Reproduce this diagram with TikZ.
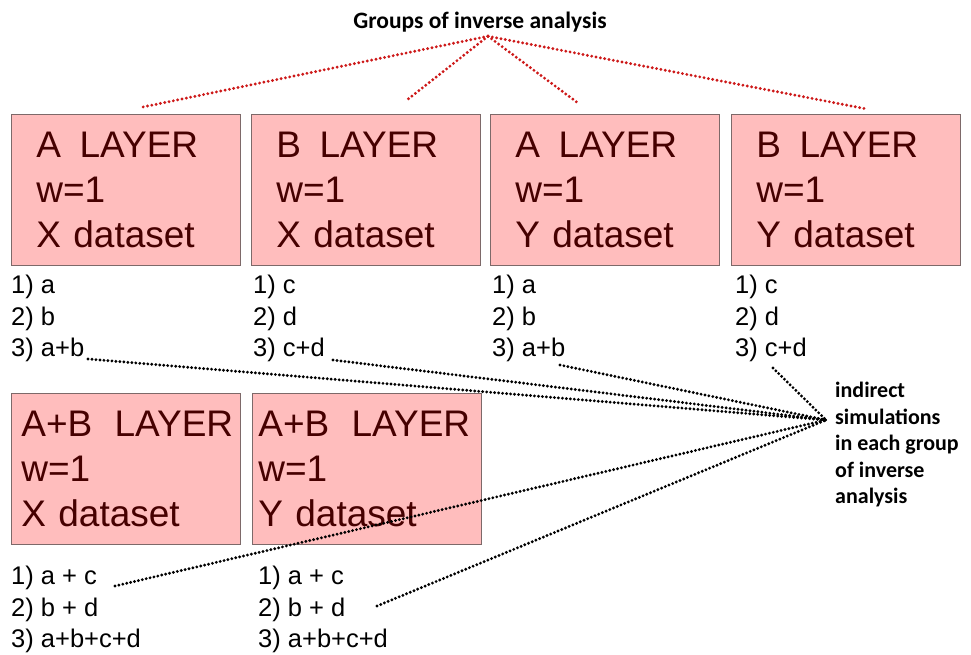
\documentclass[tikz,border=0pt]{standalone}
\usepackage{fontspec}
\setmainfont{Liberation Sans}
\newfontfamily\calibri{Carlito}
\usetikzlibrary{positioning, calc}

\definecolor{boxpink}{RGB}{255,189,189}
\definecolor{boxline}{RGB}{125,105,105}
\definecolor{boxtext}{RGB}{70,0,0}
\definecolor{linkred}{RGB}{205,25,25}

\begin{document}
\begin{tikzpicture}[x=1pt, y=-1pt,
    layer/.style={draw=boxline, line width=0.8pt, fill=boxpink, text=boxtext, anchor=north west,
        minimum width=229pt, minimum height=151pt, inner ysep=0pt,
        align=left, font=\fontsize{37pt}{45pt}\selectfont},
    items/.style={anchor=north west, inner sep=0pt, align=left,
        font=\fontsize{25.5pt}{31.5pt}\selectfont},
    redlink/.style={draw=linkred, line width=3.2pt, line cap=round, dash pattern=on 0pt off 4.4pt},
    blacklink/.style={draw=black, line width=3.2pt, line cap=round, dash pattern=on 0pt off 4pt}]

    \useasboundingbox (0,0) rectangle (971,655);

    % title
    \node[font=\calibri\bfseries\fontsize{23.5pt}{27pt}\selectfont, anchor=base] (title) at (480,29) {Groups of inverse analysis};

    % single layer boxes
    \node[layer, text width=179pt, inner xsep=25pt] (ax) at (11,114) {\mbox{A\hspace{0.5em}LAYER}\\w=1\\X dataset};
    \node[layer, text width=179pt, inner xsep=24pt] (bx) at (251,114) {\mbox{B\hspace{0.5em}LAYER}\\w=1\\X dataset};
    \node[layer, text width=179pt, inner xsep=25pt] (ay) at (490,114) {\mbox{A\hspace{0.5em}LAYER}\\w=1\\Y dataset};
    \node[layer, text width=179pt, inner xsep=24pt] (by) at (731,114) {\mbox{B\hspace{0.5em}LAYER}\\w=1\\Y dataset};

    % simulations of the single layers
    \node[items] (lax) at (11,275) {1) a\\2) b\\3) a+b};
    \node[items] (lbx) at (253,275) {1) c\\2) d\\3) c+d};
    \node[items] (lay) at (492,275) {1) a\\2) b\\3) a+b};
    \node[items] (lby) at (735,275) {1) c\\2) d\\3) c+d};

    % both layers
    \node[layer, text width=209pt, inner xsep=10pt] (abx) at (11,393) {\mbox{A+B\hspace{0.6em}LAYER}\\w=1\\X dataset};
    \node[layer, text width=217pt, inner xsep=6pt] (aby) at (252,393) {\mbox{A+B\hspace{0.6em}LAYER}\\w=1\\Y dataset};

    \node[items] (labx) at (11,566) {1) a + c\\2) b + d\\3) a+b+c+d};
    \node[items] (laby) at (258,566) {1) a + c\\2) b + d\\3) a+b+c+d};

    % note on the right
    \node[anchor=north west, align=left, inner sep=0pt, font=\calibri\bfseries\fontsize{22pt}{26.5pt}\selectfont] (note) at (835,382) {indirect\\simulations\\in each group\\of inverse\\analysis};

    % end points
    \coordinate (apex) at ($(title.south)+(8,0)$);
    \coordinate (rax) at (143,107);
    \coordinate (rbx) at (407,100);
    \coordinate (ray) at (578,103);
    \coordinate (rby) at (867,109);
    \coordinate (hub) at (826,420);
    \coordinate (sax) at (88,359);
    \coordinate (sbx) at (333,360);
    \coordinate (say) at (560,365);
    \coordinate (sby) at (773,368);
    \coordinate (sabx) at (115,586);
    \coordinate (saby) at (377,606);

    % groups of inverse analysis
    \draw[redlink] (apex) -- (rax);
    \draw[redlink] (apex) -- (rbx);
    \draw[redlink] (apex) -- (ray);
    \draw[redlink] (apex) -- (rby);

    % indirect simulations
    \draw[blacklink] (sax) -- (hub);
    \draw[blacklink] (sbx) -- (hub);
    \draw[blacklink] (say) -- (hub);
    \draw[blacklink] (sby) -- (hub);
    \draw[blacklink] (sabx) -- (hub);
    \draw[blacklink] (saby) -- (hub);

\end{tikzpicture}
\end{document}
